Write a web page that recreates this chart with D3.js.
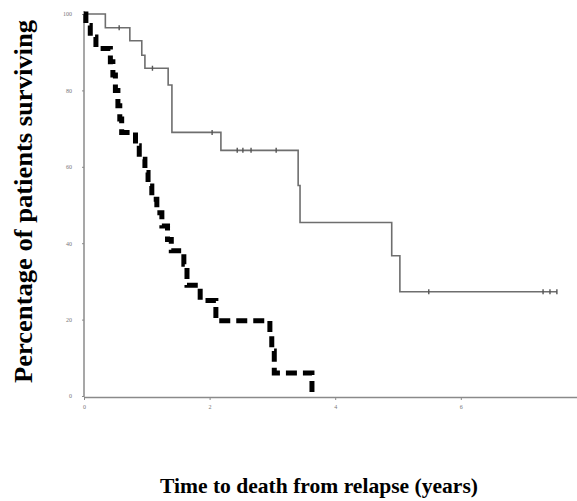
<!DOCTYPE html>
<html>
<head>
<meta charset="utf-8">
<script src="https://cdn.jsdelivr.net/npm/d3@7"></script>
<style>
  html, body { margin: 0; padding: 0; background: #fff; }
  svg { display: block; }
</style>
</head>
<body>
<svg id="chart" width="577" height="501"></svg>
<script>
// ---- data ----
const xTickValues = [0, 2, 4, 6];
const yTickValues = [0, 20, 40, 60, 80, 100];

// Group 1 (thin grey line) Kaplan-Meier steps
const thinTimes = [0, 0.34, 0.73, 0.92, 0.97, 1.34, 1.40, 2.18, 3.41, 3.44, 4.90, 5.03, 7.53];
const thinSurv  = [100, 96.4, 93.0, 89.2, 85.8, 81.4, 69.0, 64.3, 55.1, 45.4, 36.7, 27.3, 27.3];
const thinCensored = [0.56, 1.09, 2.04, 2.44, 2.53, 2.66, 3.06, 5.49, 7.31, 7.42, 7.53];

// Group 2 (thick dashed black line) Kaplan-Meier steps
const thickTimes = [0, 0.03, 0.10, 0.19, 0.42, 0.46, 0.50, 0.54, 0.57, 0.60, 0.82, 0.88, 0.97, 1.02, 1.08, 1.16, 1.24, 1.33, 1.39, 1.59, 1.64, 1.85, 2.10, 2.96, 2.99, 3.03, 3.63];
const thickSurv  = [100, 97, 94, 91, 87.5, 84, 80, 76, 72.5, 69, 65.5, 62, 58.5, 55, 51.5, 48, 44.5, 41, 38, 34.5, 29, 25, 19.7, 16.3, 11.8, 6, 0];

const xTitle = "Time to death from relapse (years)";
const yTitle = "Percentage of patients surviving";

// ---- drawing ----
const svg = d3.select("#chart");
const x = d3.scaleLinear().domain([0, 8]).range([84, 586.4]);
const y = d3.scaleLinear().domain([0, 100]).range([396, 14]);

// axes
const axisColor = "#8a8a8a";
const gx = svg.append("g").attr("transform", `translate(0,${y(0) + 1})`)
  .call(d3.axisBottom(x).tickValues(xTickValues).tickSize(3).tickPadding(5).tickSizeOuter(0));
const gy = svg.append("g").attr("transform", `translate(${x(0)},0)`)
  .call(d3.axisLeft(y).tickValues(yTickValues).tickSize(2).tickPadding(10).tickSizeOuter(0));
[gx, gy].forEach(g => {
  g.selectAll("path.domain").attr("stroke", axisColor).attr("stroke-width", 1.5);
  g.selectAll(".tick line").attr("stroke", axisColor).attr("stroke-width", 1);
  g.selectAll(".tick text").attr("fill", "#777").style("font-family", "Liberation Serif")
    .style("font-size", "6px");
});
// extend the y axis slightly above 100
gy.select("path.domain").attr("d", `M0,${y(0)+1}V${y(100) - 3}`);

// curves
const line = d3.line().x(d => x(d[0])).y(d => y(d[1])).curve(d3.curveStepAfter);
const thinPts = thinTimes.map((t, i) => [t, thinSurv[i]]);
const thickPts = thickTimes.map((t, i) => [t, thickSurv[i]]);

svg.append("path").datum(thinPts).attr("d", line)
  .attr("fill", "none").attr("stroke", "#6e6e6e").attr("stroke-width", 1.6);

function survAt(t) {
  let v = thinSurv[0];
  for (let i = 0; i < thinTimes.length; i++) if (thinTimes[i] <= t) v = thinSurv[i];
  return v;
}
svg.append("g").selectAll("line").data(thinCensored).join("line")
  .attr("x1", d => x(d)).attr("x2", d => x(d))
  .attr("y1", d => y(survAt(d)) - 2.5).attr("y2", d => y(survAt(d)) + 2.5)
  .attr("stroke", "#555").attr("stroke-width", 1.4);

svg.append("path").datum(thickPts).attr("d", line)
  .attr("fill", "none").attr("stroke", "#000").attr("stroke-width", 5)
  .attr("stroke-dasharray", "11,6");

// titles
svg.append("text")
  .attr("transform", "translate(32,201.5) rotate(-90)")
  .attr("text-anchor", "middle")
  .attr("textLength", 363).attr("lengthAdjust", "spacingAndGlyphs")
  .style("font-family", "Liberation Serif").style("font-weight", "bold").style("font-size", "26px")
  .attr("fill", "#000")
  .text(yTitle);

svg.append("text")
  .attr("x", 319).attr("y", 493)
  .attr("text-anchor", "middle")
  .attr("textLength", 318).attr("lengthAdjust", "spacingAndGlyphs")
  .style("font-family", "Liberation Serif").style("font-weight", "bold").style("font-size", "21.5px")
  .attr("fill", "#000")
  .text(xTitle);
</script>
</body>
</html>
